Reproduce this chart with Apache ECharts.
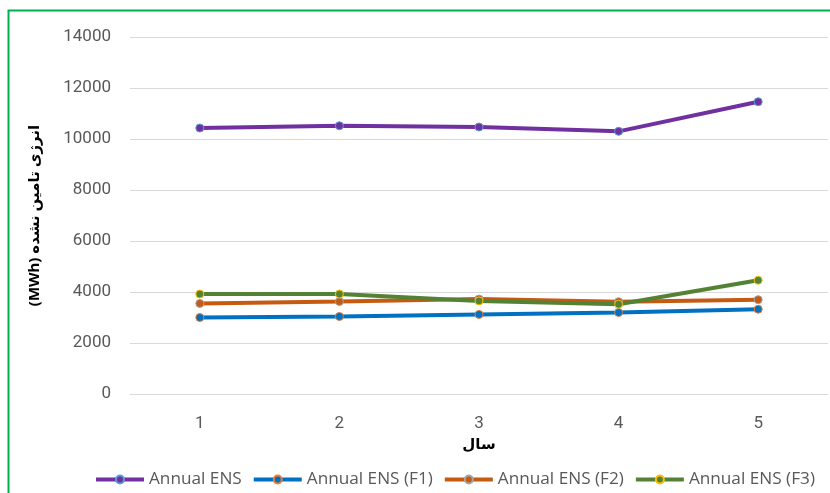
<!DOCTYPE html>
<html>
<head>
<meta charset="utf-8">
<script src="https://cdn.jsdelivr.net/npm/echarts@6/dist/echarts.min.js"></script>
<style>
  html, body { margin: 0; padding: 0; background: #fff; }
  #chart { width: 830px; height: 493px; }
</style>
</head>
<body>
<div id="chart"></div>
<script>
// Years on the horizontal axis
const years = ['1', '2', '3', '4', '5'];

// Annual energy not supplied (MWh) per scenario
const ensBase = [10430, 10520, 10470, 10300, 11460];
const ensF1 = [3000, 3040, 3120, 3195, 3325];
const ensF2 = [3550, 3625, 3725, 3620, 3700];
const ensF3 = [3920, 3920, 3650, 3520, 4460];

const seriesNames = ['Annual ENS', 'Annual ENS (F1)', 'Annual ENS (F2)', 'Annual ENS (F3)'];
const yTicks = { min: 0, max: 14000, step: 2000 };

const lineColors = ['#7030A0', '#0070C0', '#C55A11', '#548235'];
const markerBorders = ['#5B9BD5', '#ED7D31', '#A5A5A5', '#FFC000'];
const dataSets = [ensBase, ensF1, ensF2, ensF3];

const chart = echarts.init(document.getElementById('chart'), null, { renderer: 'canvas' });

const font = 'Roboto, "Noto Sans", sans-serif';

chart.setOption({
  animation: false,
  backgroundColor: '#fff',
  graphic: [{
    type: 'rect',
    shape: { x: 8.5, y: 10.5, width: 900, height: 600 },
    style: { fill: 'none', stroke: '#00B050', lineWidth: 2 },
    silent: true
  }],
  grid: { left: 130, right: 2, top: 37, bottom: 99 },
  xAxis: {
    type: 'category',
    data: years,
    boundaryGap: true,
    name: 'سال',
    nameLocation: 'middle',
    nameGap: 41,
    nameTextStyle: { fontFamily: '"Noto Sans", "DejaVu Sans", sans-serif', fontWeight: 'bold', fontSize: 15, color: '#000' },
    axisLine: { lineStyle: { color: '#D9D9D9', width: 1 } },
    axisTick: { show: false },
    axisLabel: { color: '#595959', fontSize: 17, fontFamily: font, margin: 21 }
  },
  yAxis: {
    type: 'value',
    min: yTicks.min,
    max: yTicks.max,
    interval: yTicks.step,
    name: '(MWh) انرژی تامین نشده',
    nameLocation: 'middle',
    nameRotate: 90,
    nameGap: 88,
    nameTextStyle: { fontFamily: '"Noto Sans", "DejaVu Sans", sans-serif', fontWeight: 'bold', fontSize: 15, color: '#000' },
    axisLine: { show: false },
    axisTick: { show: false },
    splitLine: { lineStyle: { color: '#D9D9D9', width: 1 } },
    axisLabel: { color: '#595959', fontSize: 17, fontFamily: font, margin: 19, formatter: v => String(v) }
  },
  legend: {
    bottom: 5,
    left: 94,
    width: 800,
    padding: 0,
    itemWidth: 48,
    itemHeight: 10,
    itemGap: 10,
    lineStyle: { width: 4 },
    textStyle: { color: '#595959', fontSize: 17.2, fontFamily: '"Open Sans", sans-serif' },
    data: seriesNames
  },
  series: dataSets.map((d, i) => ({
    name: seriesNames[i],
    type: 'line',
    data: d,
    symbol: 'circle',
    symbolSize: 8,
    lineStyle: { color: lineColors[i], width: 4 },
    itemStyle: { color: lineColors[i], borderColor: markerBorders[i], borderWidth: 1 },
    emphasis: { disabled: true }
  }))
});
</script>
</body>
</html>
